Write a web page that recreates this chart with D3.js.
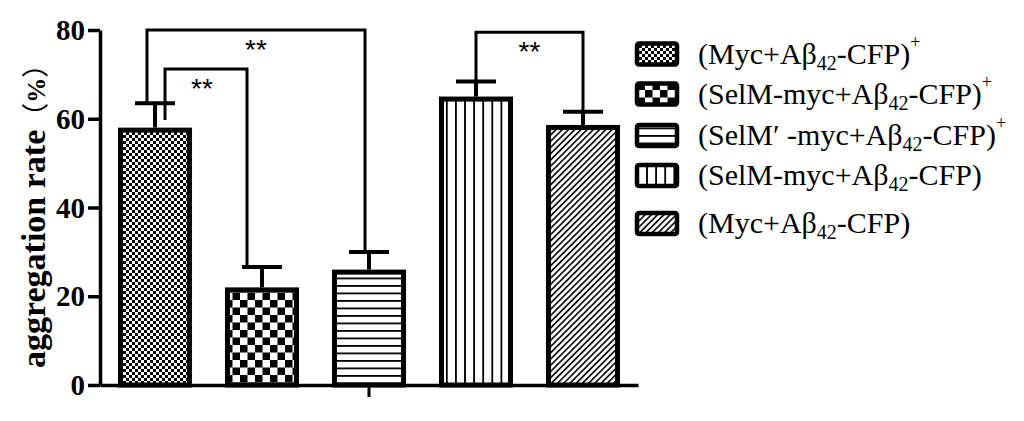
<!DOCTYPE html>
<html>
<head>
<meta charset="utf-8">
<script src="https://cdn.jsdelivr.net/npm/d3@7"></script>
<style>
  html, body { margin: 0; padding: 0; background: #fff; }
  svg { display: block; }
</style>
</head>
<body>
<svg id="chart" width="1024" height="421"></svg>
<script>
// ---------- data ----------
const categories = ["Myc+Ab42-CFP+", "SelM-myc+Ab42-CFP+", "SelM'-myc+Ab42-CFP+", "SelM-myc+Ab42-CFP", "Myc+Ab42-CFP"];
const values = [58, 22, 26, 65, 58.6];
const errors = [5.5, 4.6, 4.0, 3.4, 3.0];
const yTicks = [0, 20, 40, 60, 80];
const legendPrefix = ["(Myc+A\u03b2", "(SelM-myc+A\u03b2", "(SelM\u2032 -myc+A\u03b2", "(SelM-myc+A\u03b2", "(Myc+A\u03b2"];
const legendSub = ["42", "42", "42", "42", "42"];
const legendSuffix = ["-CFP)", "-CFP)", "-CFP)", "-CFP)", "-CFP)"];
const legendSup = ["+", "+", "+", "", ""];
const sigFrom = [0, 0, 3];
const sigTo = [2, 1, 4];
const sigLevel = [80, 71.2, 79.5];
const sigLabel = ["**", "**", "**"];
const yLabelMain = "aggregation rate";

// ---------- layout ----------
const svg = d3.select("#chart");
const x = d3.scaleBand().domain(categories).range([100, 638]).paddingInner(0.308).paddingOuter(0.168);
const y = d3.scaleLinear().domain([0, 80]).range([385, 30]);

// ---------- patterns ----------
const defs = svg.append("defs");
function pat(id, w, h, draw, transform) {
  const p = defs.append("pattern").attr("id", id).attr("patternUnits", "userSpaceOnUse")
    .attr("width", w).attr("height", h);
  if (transform) p.attr("patternTransform", transform);
  p.append("rect").attr("width", w).attr("height", h).attr("fill", "#fff");
  draw(p);
}
pat("p0", 6, 6, p => {
  p.append("rect").attr("x", 0).attr("y", 0).attr("width", 3).attr("height", 3).attr("fill", "#000");
  p.append("rect").attr("x", 3).attr("y", 3).attr("width", 3).attr("height", 3).attr("fill", "#000");
});
pat("p1", 15, 15, p => {
  p.append("rect").attr("x", 0).attr("y", 0).attr("width", 7.5).attr("height", 7.5).attr("fill", "#000");
  p.append("rect").attr("x", 7.5).attr("y", 7.5).attr("width", 7.5).attr("height", 7.5).attr("fill", "#000");
});
pat("p2", 10, 7.5, p => {
  p.append("rect").attr("x", 0).attr("y", 0).attr("width", 10).attr("height", 1.8).attr("fill", "#000");
});
pat("p3", 9.1, 10, p => {
  p.append("rect").attr("x", 0).attr("y", 0).attr("width", 1.8).attr("height", 10).attr("fill", "#000");
});
pat("p4", 4.4, 10, p => {
  p.append("rect").attr("x", 0).attr("y", 0).attr("width", 1.6).attr("height", 10).attr("fill", "#000");
}, "rotate(45)");
const fills = ["url(#p0)", "url(#p1)", "url(#p2)", "url(#p3)", "url(#p4)"];

// ---------- axes ----------
const yAxis = svg.append("g").attr("transform", "translate(100,0)")
  .call(d3.axisLeft(y).tickValues(yTicks).tickSize(12).tickSizeOuter(0).tickPadding(3));
yAxis.select(".domain").attr("stroke", "#000").attr("stroke-width", 3.5);
yAxis.selectAll(".tick line").attr("stroke", "#000").attr("stroke-width", 3.5);
yAxis.selectAll(".tick text")
  .attr("font-family", "'Liberation Serif', 'Times New Roman', serif")
  .attr("font-weight", "bold").attr("font-size", 29).attr("fill", "#000")
  .attr("dy", "0.33em");

const xAxis = svg.append("g").attr("transform", `translate(0,${y(0)})`)
  .call(d3.axisBottom(x).tickValues([categories[2]]).tickFormat("").tickSize(12).tickSizeOuter(0));
xAxis.select(".domain").attr("stroke", "#000").attr("stroke-width", 3.5);
xAxis.selectAll(".tick line").attr("stroke", "#000").attr("stroke-width", 3);

// ---------- bars ----------
const bw = 5;
svg.append("g").selectAll("rect").data(values).join("rect")
  .attr("x", (d, i) => x(categories[i]) + bw / 2)
  .attr("y", d => y(d) + bw / 2)
  .attr("width", x.bandwidth() - bw)
  .attr("height", d => y(0) - y(d) - bw / 2)
  .attr("fill", (d, i) => fills[i])
  .attr("stroke", "#000").attr("stroke-width", bw);

// ---------- error bars ----------
const eg = svg.append("g").attr("stroke", "#000").attr("stroke-width", 4);
values.forEach((v, i) => {
  const cx = x(categories[i]) + x.bandwidth() / 2;
  eg.append("line").attr("x1", cx).attr("x2", cx).attr("y1", y(v)).attr("y2", y(v + errors[i]));
  eg.append("line").attr("x1", cx - 20).attr("x2", cx + 20).attr("y1", y(v + errors[i])).attr("y2", y(v + errors[i]));
});

// ---------- significance brackets ----------
const legOffsetL = [-8, 10, 0];
const legOffsetR = [-4, -15, 0];
const legBottomL = [values[0] + errors[0], 59.7, values[3] + errors[3]];
const bg = svg.append("g");
sigFrom.forEach((f, k) => {
  const t = sigTo[k];
  const xl = x(categories[f]) + x.bandwidth() / 2 + legOffsetL[k];
  const xr = x(categories[t]) + x.bandwidth() / 2 + legOffsetR[k];
  const yt = y(sigLevel[k]);
  bg.append("path")
    .attr("d", `M${xl},${y(legBottomL[k])}V${yt}H${xr}V${y(values[t] + errors[t])}`)
    .attr("fill", "none").attr("stroke", "#000").attr("stroke-width", 3);
  bg.append("text")
    .attr("x", (xl + xr) / 2 + (k === 1 ? -4 : 0))
    .attr("y", yt + 29)
    .attr("text-anchor", "middle")
    .attr("font-family", "'Liberation Sans', Arial, sans-serif")
    .attr("font-size", 28).attr("fill", "#000")
    .text(sigLabel[k]);
});

// ---------- y label ----------
const yl = svg.append("text")
  .attr("transform", "translate(45,368) rotate(-90)")
  .attr("font-family", "'Liberation Serif', 'Times New Roman', serif")
  .attr("font-weight", "bold").attr("font-size", 34).attr("fill", "#000");
yl.append("tspan").text(yLabelMain);
yl.append("tspan").attr("font-family", "'Noto Sans CJK SC'").attr("font-weight", "normal").attr("font-size", 27).text("\uff08");
yl.append("tspan").attr("font-size", 25).text("%");
yl.append("tspan").attr("font-family", "'Noto Sans CJK SC'").attr("font-weight", "normal").attr("font-size", 27).text("\uff09");

// ---------- legend ----------
const legY = [53.5, 93.5, 135, 175, 223];
const lg = svg.append("g");
legendPrefix.forEach((pre, i) => {
  const cy = legY[i];
  lg.append("rect")
    .attr("x", 637).attr("y", cy - 10).attr("width", 40).attr("height", 21).attr("rx", 2)
    .attr("fill", fills[i]).attr("stroke", "#000").attr("stroke-width", 4.5);
  const t = lg.append("text")
    .attr("x", 698).attr("y", cy + 10)
    .attr("font-family", "'Liberation Serif', 'Times New Roman', serif")
    .attr("font-size", 30).attr("fill", "#000");
  t.append("tspan").text(pre);
  t.append("tspan").attr("font-size", 20).attr("dy", 6).text(legendSub[i]);
  t.append("tspan").attr("dy", -6).text(legendSuffix[i]);
  if (legendSup[i]) t.append("tspan").attr("font-size", 18).attr("dy", -16).text(legendSup[i]);
});
</script>
</body>
</html>
